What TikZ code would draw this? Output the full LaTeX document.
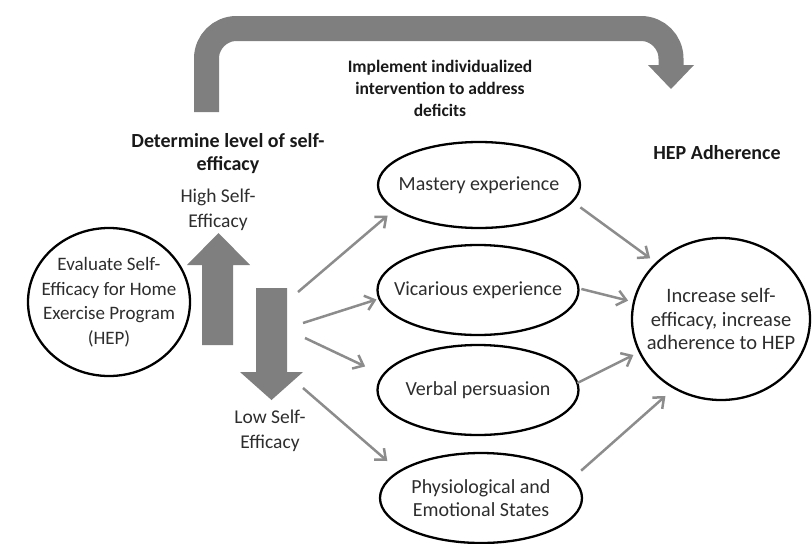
\documentclass[tikz,border=0pt]{standalone}
\usepackage{fontspec}
\setmainfont{Carlito}
\usetikzlibrary{arrows.meta,shapes.geometric}
\definecolor{fatgray}{RGB}{127,127,127}
\definecolor{linkgray}{RGB}{140,140,140}
\definecolor{txt}{RGB}{45,45,45}
\begin{document}
\begin{tikzpicture}[x=1pt,y=-1pt,
  fat/.style={fill=fatgray, draw=none},
  % negative inner sep keeps the outline at its minimum size
  bubble/.style={ellipse, draw=black, line width=2.3pt, inner xsep=-40pt, inner ysep=-20pt, outer sep=0pt,
    align=center, text=txt, font=\fontsize{20}{23.5}\selectfont},
  link/.style={draw=linkgray, line width=2.5pt, -{Straight Barb[length=9pt,width=15pt]}},
  heading/.style={font=\bfseries\fontsize{20}{23}\selectfont, align=center, text=black!90},
  tag/.style={font=\fontsize{19.5}{24.5}\selectfont, align=center, text=txt}]
\useasboundingbox (0,0) rectangle (812,544);

% bent feedback arrow across the top
\draw[fatgray, line width=25pt, rounded corners=30pt] (206.5,112) |- (671,28.5) -- (671,66);
\fill[fat] (648,65) -- (694,65) -- (671,89) -- cycle;

% high / low self-efficacy arrows
\fill[fat] (202,345) -- (202,265) -- (187,265) -- (218.5,233) -- (250,265) -- (233,265) -- (233,345) -- cycle;
\fill[fat] (256,288) -- (256,372) -- (240,372) -- (271.5,400) -- (303,372) -- (287,372) -- (287,288) -- cycle;

% headings and labels
\node[heading, font=\bfseries\fontsize{17.5}{22}\selectfont] (implement) at (440,88)
  {Implement individualized\\intervention to address\\deficits};
\node[heading] (determine) at (228,154) {Determine level of self-\\efficacy};
\node[heading] (adherence) at (717,153) {HEP Adherence};
\node[tag] (high) at (218,210) {High Self-\\Efficacy};
\node[tag] (low) at (270,431) {Low Self-\\Efficacy};

% ellipses
\node[bubble, minimum width=162pt, minimum height=148pt, font=\fontsize{19}{24.5}\selectfont] (eval) at (109,302)
  {Evaluate Self-\\Efficacy for Home\\Exercise Program\\(HEP)};
\node[bubble, minimum width=202pt, minimum height=86pt] (mastery) at (479,185) {Mastery experience};
\node[bubble, minimum width=201pt, minimum height=90pt] (vicarious) at (478,290) {Vicarious experience};
\node[bubble, minimum width=201pt, minimum height=90pt] (verbal) at (478,390) {Verbal persuasion};
\node[bubble, minimum width=202pt, minimum height=90pt] (physio) at (481,498) {Physiological and\\Emotional States};
\node[bubble, minimum width=178pt, minimum height=162pt, font=\fontsize{20.5}{23.5}\selectfont] (goal) at (721,319)
  {Increase self-\\efficacy, increase\\adherence to HEP};

% fan of interventions
\coordinate (f1) at (298,292);
\coordinate (f2) at (303,323);
\coordinate (f3) at (305,338);
\coordinate (f4) at (303,388);
\draw[link, shorten >=10pt] (f1) -- (mastery.196.9);
\draw[link, shorten >=3pt] (f2) -- (vicarious.185.5);
\draw[link, shorten >=20pt] (f3) -- (verbal.171.7);
\draw[link, shorten >=16pt] (f4) -- (physio.162.4);

% interventions feeding the outcome
\draw[link, shorten <=10pt, shorten >=8pt] (mastery.350.2) -- (goal.139.3);
\draw[link, shorten <=3pt, shorten >=6pt] (vicarious.1.7) -- (goal.169.6);
\draw[link, shorten >=7pt] (verbal.4.6) -- (goal.202.2);
\draw[link, shorten <=12pt, shorten >=12pt] (physio.12.7) -- (goal.236.1);
\end{tikzpicture}
\end{document}
